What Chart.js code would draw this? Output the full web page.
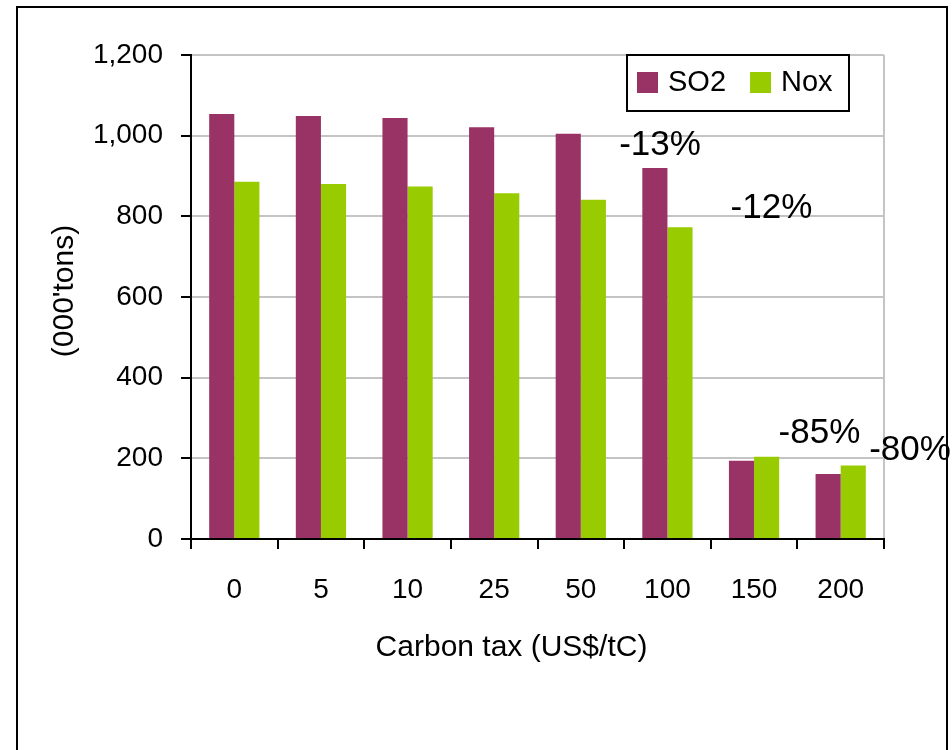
<!DOCTYPE html>
<html>
<head>
<meta charset="utf-8">
<title>SO2 and NOx emissions by carbon tax</title>
<script src="https://cdn.jsdelivr.net/npm/chart.js@4/dist/chart.umd.min.js"></script>
<style>
  html, body { margin: 0; padding: 0; background: #fff; }
  #frame {
    position: absolute; left: 16px; top: 6px; width: 928px; height: 800px;
    border: 2px solid #000; border-bottom: none;
  }
  #wrap { position: absolute; left: 0; top: 0; width: 952px; height: 750px; }
</style>
</head>
<body>
<div id="frame"></div>
<div id="wrap"><canvas id="chart" width="952" height="750"></canvas></div>
<script>
// Carbon tax levels (US$/tC)
const categories = ['0', '5', '10', '25', '50', '100', '150', '200'];
// Emissions, thousand tons
const so2 = [1054, 1049, 1044, 1021, 1005, 920, 194, 161];
const nox = [886, 880, 874, 857, 841, 773, 204, 182];
// Value axis
const yMin = 0;
const yMax = 1200;
const yStep = 200;
// Axis titles
const xTitle = 'Carbon tax (US$/tC)';
const yTitle = "(000'tons)";
// Change notes and where they sit, in (category index, value) units
const changeLabels = ['-13%', '-12%', '-85%', '-80%'];
const changeAnchors = [[4.914, 977], [6.201, 819], [6.755, 263], [7.80, 221]];

const FONT = "'Liberation Sans', Arial, Helvetica, sans-serif";
Chart.defaults.font.family = FONT;
Chart.defaults.color = '#000';

// Axis titles, placed relative to the plot area
const axisTitles = {
  id: 'axisTitles',
  afterDraw(chart) {
    const { ctx, chartArea } = chart;
    ctx.save();
    ctx.font = '30px ' + FONT;
    ctx.fillStyle = '#000';
    ctx.textAlign = 'center';
    ctx.textBaseline = 'middle';
    ctx.fillText(xTitle, chartArea.left + 320.5, chartArea.bottom + 108.5);
    ctx.translate(chartArea.left - 126, chartArea.top + 236);
    ctx.rotate(-Math.PI / 2);
    ctx.fillText(yTitle, 0, 0);
    ctx.restore();
  }
};

// Boxed legend in the upper-right corner of the plot
const boxedLegend = {
  id: 'boxedLegend',
  afterDraw(chart) {
    const { ctx, chartArea } = chart;
    const left = chartArea.right - 257, top = chartArea.top;
    const w = 222, h = 56;
    ctx.save();
    ctx.fillStyle = '#fff';
    ctx.fillRect(left, top, w, h);
    ctx.strokeStyle = '#000';
    ctx.lineWidth = 2;
    ctx.strokeRect(left, top, w, h);
    ctx.font = '29px ' + FONT;
    ctx.textBaseline = 'middle';
    ctx.textAlign = 'left';
    let cx = left + 10;
    const cy = top + 28;
    chart.data.datasets.forEach((ds) => {
      ctx.fillStyle = ds.backgroundColor;
      ctx.fillRect(cx, cy - 11, 21, 21);
      cx += 31;
      ctx.fillStyle = '#000';
      ctx.fillText(ds.label, cx, cy);
      cx += ctx.measureText(ds.label).width + 24;
    });
    ctx.restore();
  }
};

// Percentage change notes
const changeNotes = {
  id: 'changeNotes',
  afterDatasetsDraw(chart) {
    const { ctx, scales } = chart;
    ctx.save();
    ctx.font = '35px ' + FONT;
    ctx.fillStyle = '#000';
    ctx.textAlign = 'center';
    ctx.textBaseline = 'middle';
    changeLabels.forEach((t, i) => {
      const [cx, cy] = changeAnchors[i];
      ctx.fillText(t, scales.x.getPixelForValue(cx), scales.y.getPixelForValue(cy));
    });
    ctx.restore();
  }
};

new Chart(document.getElementById('chart'), {
  type: 'bar',
  data: {
    labels: categories,
    datasets: [
      { label: 'SO2', data: so2, backgroundColor: '#993366', borderWidth: 0 },
      { label: 'Nox', data: nox, backgroundColor: '#99cc00', borderWidth: 0 }
    ]
  },
  options: {
    responsive: false,
    animation: false,
    devicePixelRatio: 1,
    categoryPercentage: 0.58,
    barPercentage: 1.0,
    layout: { padding: { left: 0, right: 68, top: 55, bottom: 84 } },
    plugins: {
      legend: { display: false },
      tooltip: { enabled: false }
    },
    scales: {
      x: {
        afterFit(scale) { scale.height = 127; },
        grid: {
          display: true,
          offset: true,
          drawOnChartArea: true,
          color: (c) => (c.type === 'tick' ? 'rgba(0,0,0,0)' : '#c4c4c4'),
          lineWidth: 2,
          tickColor: '#000',
          tickWidth: 2,
          tickLength: 10
        },
        border: { display: true, color: '#000', width: 2 },
        ticks: { font: { size: 28 }, color: '#000', padding: 24, maxRotation: 0 },
        title: { display: false }
      },
      y: {
        min: yMin,
        max: yMax,
        afterFit(scale) { scale.width = 191; },
        grid: {
          color: '#c4c4c4',
          lineWidth: 2,
          tickColor: '#000',
          tickWidth: 2,
          tickLength: 10
        },
        border: { display: true, color: '#000', width: 2 },
        ticks: {
          stepSize: yStep,
          font: { size: 28 },
          color: '#000',
          padding: 18,
          callback: (v) => Number(v).toLocaleString('en-US')
        },
        title: { display: false }
      }
    }
  },
  plugins: [changeNotes, boxedLegend, axisTitles]
});
</script>
</body>
</html>
